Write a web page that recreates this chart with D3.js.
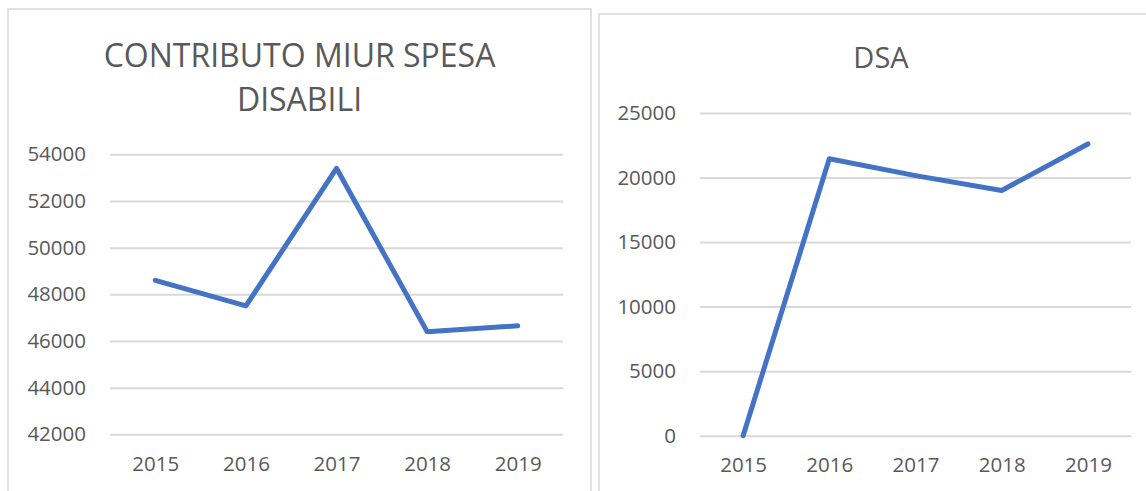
<!DOCTYPE html>
<html>
<head>
<meta charset="utf-8">
<script src="https://cdn.jsdelivr.net/npm/d3@7"></script>
<style>
	html, body { margin: 0; padding: 0; background: white; }
	svg { display: block; }
</style>
</head>
<body>
<div id="viz"></div>
<script>
let years = ["2015", "2016", "2017", "2018", "2019"];
let miurValues = [48600, 47500, 53400, 46400, 46650];
let miurTicks = [42000, 44000, 46000, 48000, 50000, 52000, 54000];
let dsaValues = [0, 21450, 20150, 19000, 22600];
let dsaTicks = [0, 5000, 10000, 15000, 20000, 25000];

let textColor = "#595959";
let gridColor = "#d9d9d9";
let lineColor = "#4472c4";
let font = "'Open Sans', sans-serif";

let svg = d3.select("#viz").append("svg")
	.attr("width", 1146)
	.attr("height", 491);

function drawPanel(p) {
	let g = svg.append("g");

	// chart frame (bottom edge runs off the picture)
	g.append("rect")
		.attr("x", p.box.x).attr("y", p.box.y)
		.attr("width", p.box.w).attr("height", 600)
		.attr("fill", "white")
		.attr("stroke", gridColor)
		.attr("stroke-width", 1.5);

	// title
	let title = g.append("text")
		.attr("text-anchor", "middle")
		.attr("fill", textColor)
		.style("font-family", font)
		.style("font-size", p.titleSize + "px");
	p.title.forEach((t, i) => {
		title.append("tspan")
			.attr("x", p.box.x + p.box.w / 2)
			.attr("y", p.titleY + i * 44)
			.text(t);
	});

	let x = d3.scalePoint()
		.domain(p.cats)
		.range([p.plot.left, p.plot.right])
		.padding(0.5);

	let y = d3.scaleLinear()
		.domain(d3.extent(p.ticks))
		.range([p.plot.bottom, p.plot.top]);

	// gridlines + y labels
	let yAxis = d3.axisLeft(y)
		.tickValues(p.ticks)
		.tickSize(-(p.plot.right - p.plot.left))
		.tickPadding(24)
		.tickFormat(d3.format("d"));

	let ya = g.append("g")
		.attr("transform", "translate(" + p.plot.left + ",0)")
		.call(yAxis);
	ya.select(".domain").remove();
	ya.selectAll("line")
		.attr("stroke", gridColor)
		.attr("stroke-width", 2);
	ya.selectAll("text")
		.attr("fill", textColor)
		.style("font-family", font)
		.style("font-size", "20.5px");

	// x labels
	let xAxis = d3.axisBottom(x).tickSize(0).tickPadding(p.xPad);
	let xa = g.append("g")
		.attr("transform", "translate(0," + p.plot.bottom + ")")
		.call(xAxis);
	xa.select(".domain").remove();
	xa.selectAll("text")
		.attr("fill", textColor)
		.style("font-family", font)
		.style("font-size", "20.5px");

	let line = d3.line()
		.x((d, i) => x(p.cats[i]))
		.y(d => y(d));

	g.append("path")
		.attr("d", line(p.values))
		.attr("fill", "none")
		.attr("stroke", lineColor)
		.attr("stroke-width", 5)
		.attr("stroke-linejoin", "round")
		.attr("stroke-linecap", "round");
}

drawPanel({
	box: {x: 8, y: 9, w: 583},
	title: ["CONTRIBUTO MIUR SPESA", "DISABILI"],
	titleSize: 32,
	titleY: 67,
	plot: {left: 110, right: 563, top: 154.3, bottom: 434.3},
	cats: years,
	values: miurValues,
	ticks: miurTicks,
	xPad: 22
});

drawPanel({
	box: {x: 599, y: 14, w: 564},
	title: ["DSA"],
	titleSize: 29,
	titleY: 68,
	plot: {left: 700, right: 1131, top: 113, bottom: 435.7},
	cats: years,
	values: dsaValues,
	ticks: dsaTicks,
	xPad: 22
});
</script>
</body>
</html>
